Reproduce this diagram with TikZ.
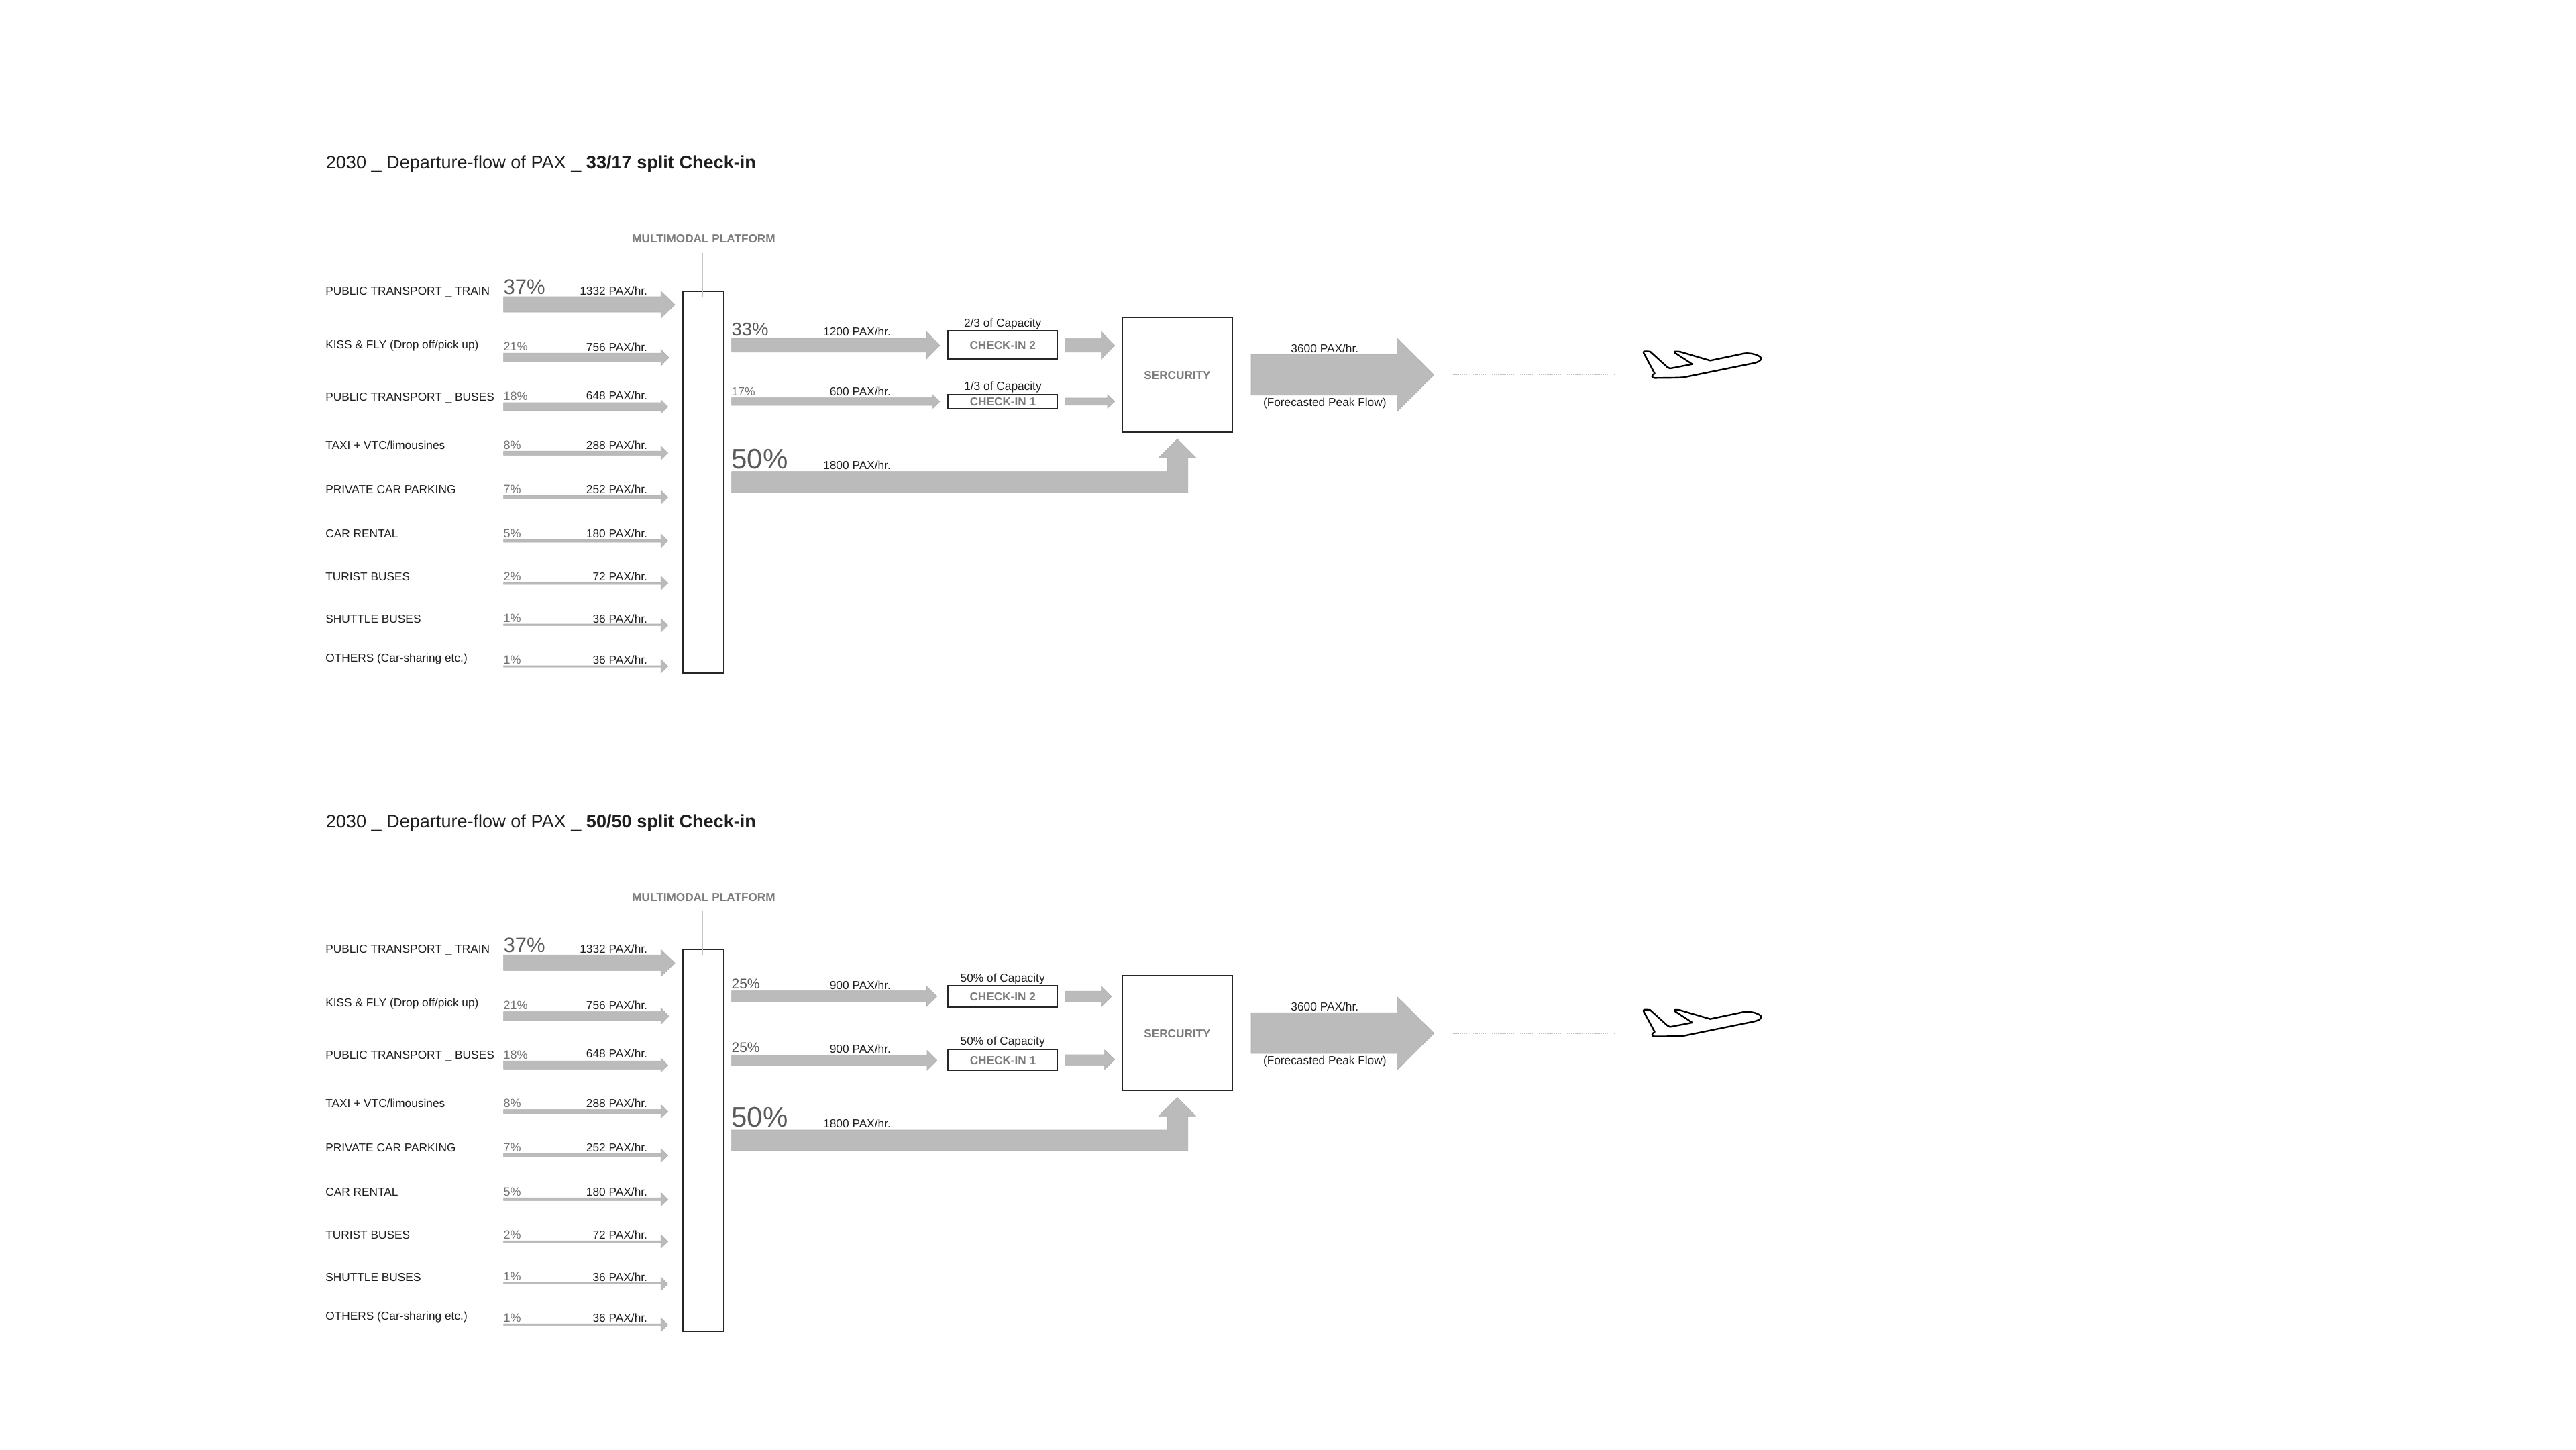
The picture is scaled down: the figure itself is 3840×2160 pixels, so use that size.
\documentclass[tikz,border=0pt]{standalone}
\usepackage{fontspec}
\setmainfont{Liberation Sans}
\definecolor{flowfill}{HTML}{BBBBBB}
\definecolor{flowedge}{HTML}{ADADAD}
\definecolor{inktext}{HTML}{1E1E1E}
\definecolor{pctA}{HTML}{5A5A5A}
\definecolor{pctB}{HTML}{737373}
\definecolor{caption}{HTML}{7C7C7C}
\definecolor{leader}{HTML}{C4C4C4}
\newcommand{\fsz}[1]{\fontsize{#1}{#1}\selectfont}
\tikzset{
  every node/.style={inner sep=0pt,outer sep=0pt},
  lab/.style={anchor=base west,text=inktext,font=\fsz{17.3}},
  rate/.style={anchor=base east,text=inktext,font=\fsz{17.3}},
  mid/.style={anchor=base,text=inktext,font=\fsz{17.3}},
  pct/.style={anchor=base west,text=pctB,font=\fsz{18}},
  pctbig/.style={anchor=base west,text=pctA},
  capt/.style={anchor=base,text=caption,font=\fsz{17.2}\bfseries},
  titletext/.style={anchor=base west,text=inktext,font=\fsz{27.1}},
  boxed/.style={draw=black!85,line width=2pt,fill=white,anchor=north west},
  flow/.style={fill=flowfill,draw=flowedge,line width=0.7pt,line join=miter},
  plane/.style={draw=black,line width=2.4pt,fill=white,line join=round}
}
% x0, head base x, tip x, shaft top, shaft bottom, head top, head bottom
\newcommand{\flowarrow}[7]{%
  \path[flow] (#1,#4) -- (#2,#4) -- (#2,#6) -- (#3,{(#6+#7)/2}) -- (#2,#7) -- (#2,#5) -- (#1,#5) -- cycle;}
% name, label, label base, pct, pct base, rate, rate base
\newcommand{\srcrow}[7]{%
  \node[lab] (#1-l) at (485.3,#3) {#2};
  \node[pct] (#1-p) at (750.6,#5) {#4\%};
  \node[rate] (#1-r) at (965,#7) {#6 PAX/hr.};}
\newcommand{\commonblock}[1]{%
  \node[titletext] (title) at (485.8,251.7) {2030 \_ Departure-flow of PAX \_ {\bfseries #1}};
  \node[capt] (mmlabel) at (1049,361.7) {MULTIMODAL PLATFORM};
  \node[lab] (train-l) at (485.3,439) {PUBLIC TRANSPORT \_ TRAIN};
  \node[pctbig,font=\fsz{31}] (train-p) at (750.6,438) {37\%};
  \node[rate] (train-r) at (965,439) {1332 PAX/hr.};
  \srcrow{kiss}{KISS \& FLY (Drop off/pick up)}{519.3}{21}{522.7}{756}{523}
  \srcrow{buses}{PUBLIC TRANSPORT \_ BUSES}{597}{18}{596.7}{648}{595}
  \srcrow{taxi}{TAXI + VTC/limousines}{669}{8}{669}{288}{669}
  \srcrow{car}{PRIVATE CAR PARKING}{735}{7}{735}{252}{735}
  \srcrow{rental}{CAR RENTAL}{801}{5}{801}{180}{801}
  \srcrow{turist}{TURIST BUSES}{865}{2}{865}{72}{865}
  \srcrow{shuttle}{SHUTTLE BUSES}{928.2}{1}{927.5}{36}{928.5}
  \srcrow{others}{OTHERS (Car-sharing etc.)}{986}{1}{989}{36}{989}
  \flowarrow{750.6}{985.3}{1006}{442}{465}{434}{474}
  \flowarrow{750.6}{985.3}{997}{526.3}{539.3}{521}{545}
  \flowarrow{750.6}{985.3}{995.5}{600}{612}{596}{616}
  \flowarrow{750.6}{985.3}{995.5}{672.3}{678.3}{665}{685}
  \flowarrow{750.6}{985.3}{995.5}{738}{743.3}{731}{751}
  \flowarrow{750.6}{985.3}{995.5}{804}{808}{796}{816}
  \flowarrow{750.6}{985.3}{995.5}{868}{871}{859}{879}
  \flowarrow{750.6}{985.3}{995.5}{930}{932.3}{922}{942}
  \flowarrow{750.6}{985.3}{995.5}{992}{994}{983}{1003}
  \node[boxed,minimum width=61.2pt,minimum height=569pt] (plat) at (1017.6,434) {};
  \coordinate (leadtop) at (1047.8,377);
  \draw[leader,line width=1.2pt] (leadtop) -- ([yshift=-8pt]plat.north -| leadtop);
  \node[boxed,minimum width=163.7pt,minimum height=171pt] (sec) at (1673.3,473) {};
  \node[capt] (seclabel) at (1755,565) {SERCURITY};
  \node[pctbig,font=\fsz{42}] (p50) at (1090.6,698) {50\%};
  \node[rate] (r50) at (1327.9,699.3) {1800 PAX/hr.};
  \path[flow] (1090.6,702.7) -- (1740,702.7) -- (1740,682) -- (1727.3,682) -- (1755,654.3)
     -- (1782.5,682) -- (1770.7,682) -- (1770.7,733.7) -- (1090.6,733.7) -- cycle;
  \path[flow] (1865,528) -- (2082.5,528) -- (2082.5,504) -- (2137.6,558.7) -- (2082.5,613.3)
     -- (2082.5,588.7) -- (1865,588.7) -- cycle;
  \node[mid] (peak) at (1974.8,525) {3600 PAX/hr.};
  \node[mid] (peaknote) at (1974.8,605.5) {(Forecasted Peak Flow)};
  \coordinate (dotA) at (2165.5,558.7);
  \coordinate (dotB) at (2407,558.7);
  \draw[leader,line width=0.9pt,dash pattern=on 1.4pt off 1.4pt] (dotA) -- (dotB);
  \begin{scope}[shift={(2430,505)},x=0.3333pt,y=-0.3333pt]
    \path[plane] (60,62) .. controls (58,55) and (65,54) .. (90,57)
      -- (165,125) .. controls (172,132) and (178,133) .. (190,130)
      -- (278,113) -- (200,62) .. controls (195,56) and (200,54) .. (225,58)
      -- (358,97) -- (510,65) .. controls (540,60) and (585,75) .. (586,87)
      .. controls (585,100) and (570,105) .. (545,110)
      -- (250,170) .. controls (240,174) and (200,174) .. (110,175)
      .. controls (95,174) and (93,163) .. (110,155) -- cycle;
  \end{scope}}
\begin{document}
\begin{tikzpicture}[x=1pt,y=-1pt]
\useasboundingbox (0,0) rectangle (3840,2160);
\fill[white] (0,0) rectangle (3840,2160);
% ---------- upper diagram
\commonblock{33/17 split Check-in}
\node[pctbig,font=\fsz{27.5}] (ua-p) at (1090.6,500) {33\%};
\node[rate] (ua-r) at (1327.9,500.7) {1200 PAX/hr.};
\flowarrow{1090.6}{1381}{1400.8}{504}{524.7}{494.3}{535}
\node[boxed,minimum width=163.7pt,minimum height=42pt] (ua-box) at (1412.6,493.3) {};
\node[capt] (ua-t) at (1494.7,520.8) {CHECK-IN 2};
\node[mid] (ua-c) at (1494.7,487.5) {2/3 of Capacity};
\flowarrow{1587.6}{1641.6}{1661.5}{504.7}{524.7}{494.3}{535}
\node[pct,font=\fsz{17.5}] (ub-p) at (1090.6,589) {17\%};
\node[rate] (ub-r) at (1327.9,589) {600 PAX/hr.};
\flowarrow{1090.6}{1390.6}{1400.8}{592.7}{604}{588.3}{608.3}
\node[boxed,minimum width=163.7pt,minimum height=21.3pt] (ub-box) at (1412.6,587.7) {};
\node[capt] (ub-t) at (1495,604.8) {CHECK-IN 1};
\node[mid] (ub-c) at (1495,581.5) {1/3 of Capacity};
\flowarrow{1587.6}{1651}{1661.5}{593}{603.7}{588.3}{608.3}
% ---------- lower diagram
\begin{scope}[yshift=-981.3pt,name prefix=low-]
\commonblock{50/50 split Check-in}
\end{scope}
\node[pctbig,font=\fsz{21}] (la-p) at (1090.6,1473.3) {25\%};
\node[rate] (la-r) at (1327.9,1474.5) {900 PAX/hr.};
\flowarrow{1090.6}{1381}{1396.7}{1476.7}{1492.7}{1469.7}{1500.3}
\node[boxed,minimum width=163.7pt,minimum height=31.7pt] (la-box) at (1412.6,1469.3) {};
\node[capt] (la-t) at (1494.7,1491.8) {CHECK-IN 2};
\node[mid] (la-c) at (1494.7,1463.5) {50\% of Capacity};
\flowarrow{1587.6}{1641.6}{1657}{1477.3}{1492.7}{1469.7}{1500.3}
\node[pctbig,font=\fsz{21}] (lb-p) at (1090.6,1568.3) {25\%};
\node[rate] (lb-r) at (1327.9,1569.5) {900 PAX/hr.};
\flowarrow{1090.6}{1382}{1396.7}{1572.7}{1588.3}{1565.7}{1595}
\node[boxed,minimum width=163.7pt,minimum height=31.6pt] (lb-box) at (1412.6,1563.7) {};
\node[capt] (lb-t) at (1495,1586.5) {CHECK-IN 1};
\node[mid] (lb-c) at (1494.7,1557.5) {50\% of Capacity};
\flowarrow{1587.6}{1646.7}{1661.5}{1572}{1587.3}{1565}{1593.7}
\end{tikzpicture}
\end{document}
